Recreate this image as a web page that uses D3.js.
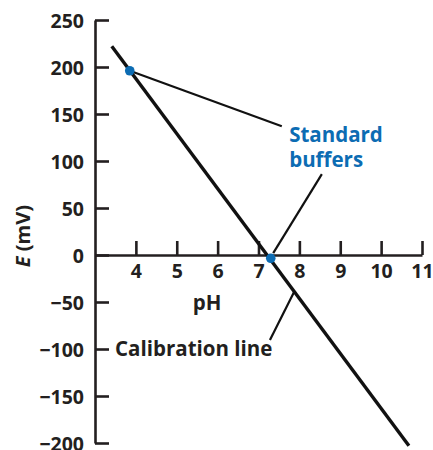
<!DOCTYPE html>
<html>
<head>
<meta charset="utf-8">
<script src="https://cdn.jsdelivr.net/npm/d3@7"></script>
<style>
  body { margin: 0; background: #fff; }
  svg text { font-family: "Open Sans", sans-serif; font-weight: 700; }
</style>
</head>
<body>
<svg width="433" height="450"></svg>
<script>
// data
var phTicks = [4, 5, 6, 7, 8, 9, 10, 11];
var eTicks = [-200, -150, -100, -50, 0, 50, 100, 150, 200, 250];
var calibPH = [3.41, 10.68];
var calibE = [222, -203];
var bufferPH = [3.85, 7.3];
var bufferE = [196, -3.5];

var BLUE = "#0c6cb3";
var INK = "#231f20";

var svg = d3.select("svg");

// escalas
var x = d3.scaleLinear().domain([3, 11]).range([95, 422]);
var y = d3.scaleLinear().domain([-200, 250]).range([443, 20]);

var fmt = function(d) { return d < 0 ? "\u2212" + Math.abs(d) : "" + d; };

var gy = svg.append("g")
    .attr("transform", "translate(" + x(3) + ",0)")
    .call(d3.axisLeft(y).tickValues(eTicks).tickSize(-14).tickSizeOuter(0)
        .tickPadding(11).tickFormat(fmt));

var gx = svg.append("g")
    .attr("transform", "translate(0," + y(0) + ")")
    .call(d3.axisBottom(x).tickValues(phTicks).tickSize(-14).tickSizeOuter(0)
        .tickPadding(9));

[gx, gy].forEach(function(g) {
  g.select(".domain").attr("stroke", INK).attr("stroke-width", 2.6);
  g.selectAll(".tick line").attr("stroke", INK).attr("stroke-width", 2.6);
  g.selectAll(".tick text").attr("fill", INK)
      .style("font-size", "19.5px").style("font-family", "'Open Sans', sans-serif").style("font-weight", 700);
});
gy.selectAll(".tick text").attr("dy", "0.36em");

// etiquetas de ejes
svg.append("text")
    .attr("transform", "translate(30," + y(20) + ") rotate(-90)")
    .attr("text-anchor", "middle")
    .attr("fill", INK)
    .style("font-size", "20px")
    .html('<tspan font-style="italic">E</tspan> (mV)');

svg.append("text")
    .attr("x", x(5.74)).attr("y", y(-58.5))
    .attr("text-anchor", "middle")
    .attr("fill", INK)
    .style("font-size", "20.5px")
    .text("pH");

// linea de calibracion
var line = d3.line().x(function(d) { return x(d[0]); }).y(function(d) { return y(d[1]); });
svg.append("path")
    .datum(d3.zip(calibPH, calibE))
    .attr("d", line)
    .attr("fill", "none")
    .attr("stroke", "#111")
    .attr("stroke-width", 3.4);

// lineas guia
var leaders = [
  [[bufferPH[0], bufferE[0]], [7.57, 137]],
  [[8.55, 86], [7.36, 2]],
  [[7.28, -90.4], [7.87, -39.4]]
];
svg.selectAll(".leader")
    .data(leaders)
    .join("path")
    .attr("class", "leader")
    .attr("d", line)
    .attr("fill", "none")
    .attr("stroke", "#111")
    .attr("stroke-width", 2.2);

svg.selectAll(".buf")
    .data(d3.zip(bufferPH, bufferE))
    .join("circle")
    .attr("class", "buf")
    .attr("cx", function(d) { return x(d[0]); })
    .attr("cy", function(d) { return y(d[1]); })
    .attr("r", 4.8)
    .attr("fill", BLUE);

// textos
svg.append("text")
    .attr("x", x(7.75)).attr("y", y(120.5))
    .attr("fill", BLUE)
    .style("font-size", "20.5px")
    .text("Standard");
svg.append("text")
    .attr("x", x(7.75)).attr("y", y(94))
    .attr("fill", BLUE)
    .style("font-size", "20.5px")
    .text("buffers");

svg.append("text")
    .attr("x", x(3.49)).attr("y", y(-107))
    .attr("fill", INK)
    .style("font-size", "20.5px")
    .text("Calibration line");
</script>
</body>
</html>
